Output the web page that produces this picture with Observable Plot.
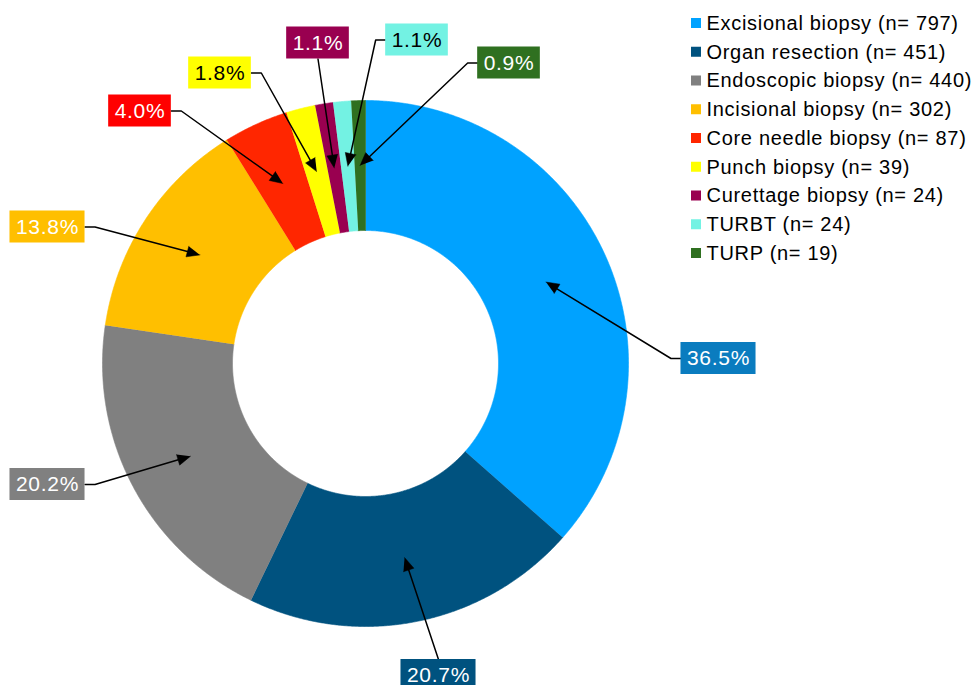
<!DOCTYPE html>
<html>
<head>
<meta charset="utf-8">
<script src="https://cdn.jsdelivr.net/npm/d3@7"></script>
<script src="https://cdn.jsdelivr.net/npm/@observablehq/plot@0.6"></script>
<style>
  html, body { margin: 0; padding: 0; background: #fff; }
  #chart { width: 972px; height: 690px; overflow: hidden; }
  #chart svg text { letter-spacing: 0.7px; }
</style>
</head>
<body>
<div id="chart"></div>
<script>
// ---- data ----
const categories = ["Excisional biopsy", "Organ resection", "Endoscopic biopsy", "Incisional biopsy",
  "Core needle biopsy", "Punch biopsy", "Curettage biopsy", "TURBT", "TURP"];
const counts = [797, 451, 440, 302, 87, 39, 24, 24, 19];
const percentLabels = ["36.5%", "20.7%", "20.2%", "13.8%", "4.0%", "1.8%", "1.1%", "1.1%", "0.9%"];

// ---- styles ----
const sliceColors = ["#00A2FF", "#00527F", "#808080", "#FFBF00", "#FF2600", "#FFFF00", "#990050", "#73F2E3", "#2F7020"];
const boxColors = ["#0A7CBF", "#00527F", "#808080", "#FFBF00", "#FF0000", "#FFFF00", "#990050", "#73F2E3", "#2F7020"];
const labelTextColors = ["#fff", "#fff", "#fff", "#fff", "#fff", "#000", "#fff", "#000", "#fff"];

// ---- layout ----
const W = 972, H = 690, CLIP_BOTTOM = 685;
const CX = 365, CY = 363, R_OUT = 263, R_IN = 133;
const LABEL_FONT = 21, LABEL_LS = 0.7, BOX_PAD = 6, BOX_H = 32, ELBOW = 10;
const labelLayout = [
  {cx: 718, cy: 358, side: "left"},
  {cx: 438, cy: 675, side: "top"},
  {cx: 47, cy: 484, side: "right"},
  {cx: 47, cy: 226.5, side: "right"},
  {cx: 139.5, cy: 110.5, side: "right"},
  {cx: 219.5, cy: 72.5, side: "right"},
  {cx: 317.5, cy: 42.5, side: "bottom"},
  {cx: 416.5, cy: 39.5, side: "left"},
  {cx: 508.5, cy: 62.5, side: "left"}
];
const LEG_X = 691, LEG_Y0 = 23, LEG_DY = 28.75, LEG_SQ = 10, LEG_FONT = 20;

// ---- geometry from data ----
const pie = d3.pie().sort(null).value(d => d)(counts);
const arc = d3.arc().innerRadius(R_IN).outerRadius(R_OUT);
const pt = (a, r) => ({x: CX + r * Math.sin(a), y: CY - r * Math.cos(a)});

const slicePts = [];
pie.forEach((p, i) => {
  const n = Math.max(4, Math.ceil((p.endAngle - p.startAngle) / 0.005));
  for (let k = 0; k <= n; k++) {
    const a = p.startAngle + (p.endAngle - p.startAngle) * k / n;
    slicePts.push({...pt(a, R_OUT), i, color: sliceColors[i]});
  }
  for (let k = n; k >= 0; k--) {
    const a = p.startAngle + (p.endAngle - p.startAngle) * k / n;
    slicePts.push({...pt(a, R_IN), i, color: sliceColors[i]});
  }
});

// text measurement
const ctx = document.createElement("canvas").getContext("2d");
ctx.font = `${LABEL_FONT}px "Liberation Sans", Arial, sans-serif`;
const textW = s => ctx.measureText(s).width + LABEL_LS * s.length;

const boxes = percentLabels.map((s, i) => {
  const L = labelLayout[i];
  const w = textW(s) + 2 * BOX_PAD;
  return {x1: L.cx - w / 2, x2: L.cx + w / 2, y1: L.cy - BOX_H / 2, y2: Math.min(L.cy + BOX_H / 2, CLIP_BOTTOM),
    cx: L.cx, cy: L.cy, text: s, fill: boxColors[i], tc: labelTextColors[i], side: L.side, i};
});

const leaderPts = [];
const heads = [];
boxes.forEach(b => {
  const c = arc.centroid(pie[b.i]);
  const tip = {x: CX + c[0], y: CY + c[1]};
  let start, elbow;
  if (b.side === "left") { start = {x: b.x1, y: b.cy}; elbow = {x: b.x1 - ELBOW, y: b.cy}; }
  else if (b.side === "right") { start = {x: b.x2, y: b.cy}; elbow = {x: b.x2 + ELBOW, y: b.cy}; }
  else if (b.side === "bottom") { start = {x: b.cx, y: b.y2}; elbow = start; }
  else { start = {x: b.cx, y: b.y1}; elbow = start; }
  const dx = tip.x - elbow.x, dy = tip.y - elbow.y, len = Math.hypot(dx, dy);
  const ux = dx / len, uy = dy / len;
  const HL = 13, HW = 5.5;
  const base = {x: tip.x - ux * HL, y: tip.y - uy * HL};
  [start, elbow, {x: base.x + ux * 2, y: base.y + uy * 2}].forEach(p => leaderPts.push({...p, i: b.i}));
  heads.push({x: tip.x, y: tip.y, i: b.i});
  heads.push({x: base.x - uy * HW, y: base.y + ux * HW, i: b.i});
  heads.push({x: base.x + uy * HW, y: base.y - ux * HW, i: b.i});
});

const legend = categories.map((c, i) => ({
  label: `${c} (n= ${counts[i]})`, color: sliceColors[i],
  y: LEG_Y0 + i * LEG_DY
}));

const chart = Plot.plot({
  width: W, height: H,
  margin: 0,
  x: {domain: [0, W], range: [0, W], axis: null},
  y: {domain: [0, H], range: [0, H], axis: null},
  color: {type: "identity"},
  style: {fontFamily: '"Liberation Sans", Arial, sans-serif', background: "#fff"},
  marks: [
    Plot.line(slicePts, {x: "x", y: "y", z: "i", fill: "color", stroke: "color", strokeWidth: 0.6}),
    Plot.line(leaderPts, {x: "x", y: "y", z: "i", stroke: "#000", strokeWidth: 1.5}),
    Plot.line(heads, {x: "x", y: "y", z: "i", fill: "#000", stroke: "#000", strokeWidth: 0.5}),
    Plot.rect(boxes, {x1: "x1", x2: "x2", y1: "y1", y2: "y2", fill: "fill"}),
    Plot.text(boxes, {x: "cx", y: "cy", text: "text", fill: "tc", fontSize: LABEL_FONT}),
    Plot.rect(legend, {x1: LEG_X, x2: LEG_X + LEG_SQ, y1: d => d.y - LEG_SQ / 2, y2: d => d.y + LEG_SQ / 2, fill: "color"}),
    Plot.text(legend, {x: LEG_X + LEG_SQ + 5, y: "y", text: "label", textAnchor: "start", fill: "#000", fontSize: LEG_FONT})
  ]
});
document.getElementById("chart").appendChild(chart);
</script>
</body>
</html>
